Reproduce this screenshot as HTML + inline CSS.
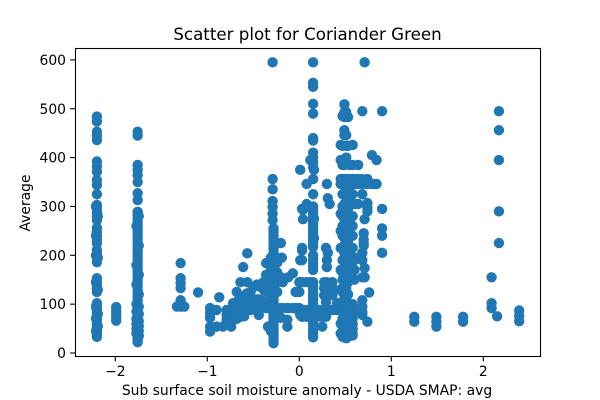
<!DOCTYPE html>
<html lang="en">
<head>
<meta charset="utf-8">
<title>Scatter plot for Coriander Green</title>
<style>
html,body{margin:0;padding:0;background:#fff;}
svg{display:block;font-family:"DejaVu Sans","Liberation Sans",sans-serif;fill:#000;}
</style>
</head>
<body>
<svg id="chart" width="600" height="400" viewBox="0 0 600 400" xmlns="http://www.w3.org/2000/svg">
<rect width="600" height="400" fill="#fff"/>
<g id="points"></g>
<rect x="75.5" y="48.5" width="465" height="308" fill="none" stroke="#000" stroke-width="1.1"/>
<g id="x-ticks"></g>
<g id="y-ticks"></g>
<text x="307.5" y="40" font-size="16.67" text-anchor="middle">Scatter plot for Coriander Green</text>
<text x="307" y="395" font-size="13.89" text-anchor="middle">Sub surface soil moisture anomaly - USDA SMAP: avg</text>
<text x="30" y="203" font-size="13.89" text-anchor="middle" transform="rotate(-90 30 203)">Average</text>
</svg>
<script>
const xTickValues = [-2, -1, 0, 1, 2];
const yTickValues = [0, 100, 200, 300, 400, 500, 600];
const stripeX = [
  -2.2, -2.21, -2.19, -1.99, -1.757, -1.77, -1.745, -1.29, -1.33, -1.25, -1.1,
  -0.97, -0.9, -0.87, -0.83, -0.79, -0.76, -0.74, -0.72, -0.68, -0.64, -0.61, -0.6, -0.57, -0.565,
  -0.53, -0.5, -0.46, -0.44, -0.42, -0.39, -0.36, -0.34, -0.31, -0.29, -0.28, -0.24, -0.2,
  -0.19, -0.18, -0.13, -0.12, -0.07, -0.04, 0, 0.01, 0.03, 0.04, 0.08, 0.12,
  0.15, 0.16, 0.2, 0.25, 0.27, 0.29, 0.3, 0.31, 0.33, 0.36, 0.41, 0.45,
  0.47, 0.49, 0.51, 0.53, 0.55, 0.58, 0.6, 0.64, 0.685, 0.7, 0.71, 0.74,
  0.76, 0.79, 0.82, 0.84, 0.9, 1.25, 1.49, 1.78, 2.09, 2.15, 2.17, 2.39
];
const stripeY = [
  [484,474,453,445,436,392,382,371,354,344,325,303,296,288,280,272,256,248,240,232,225,211,203,195,186,153,146,139,132,125,102,95,88,81,74,67,60,53,46,39,33],
  [300,240,200,145,95,70,45],
  [280,195,130,80,55],
  [94,87,80,73,66],
  [453,445,385,375,364,350,327,313,289,282,275,268,261,254,247,240,233,226,219,212,205,198,191,184,177,170,163,156,149,142,135,128,121,114,107,100,95,90,85,80,75,70,65,60,55,50,45,40,35,30,26,22],
  [260,180,140,100,85,70,60,50,40],
  [280,220,160,120,95,80,65,55,45,35],
  [184,153,143,133,108,100,95],
  [95],
  [95],
  [124],
  [92,82,72,54,44],
  [88,54],
  [114],
  [54],
  [88,78,68],
  [85,75,65],
  [54],
  [102,90,78,68],
  [125,105,100,90,85,80,70],
  [145,112,100,88,74],
  [176],
  [115,105,95,85,75],
  [122,110,98,88],
  [204,145],
  [125,115,105,95,88],
  [135,108],
  [140,110,100],
  [95,88,78],
  [135,110],
  [145,130,105],
  [184,160,145,130,105,92],
  [160,145,125,92,54],
  [195,175,160,140,120,92,45],
  [595,356,335,311,299,285,272],
  [255,248,241,234,227,220,213,205,198,191,184,177,170,163,156,149,142,135,128,121,114,107,100,95,90,85,80,75,70,65,60,55,50,45,40,35,28,20],
  [225,185,165,145,125,92],
  [225,155,92,72],
  [195],
  [145,92],
  [92,68,54],
  [155,92],
  [163,92],
  [125,92],
  [145,125,92,85],
  [375,190,145,88,78],
  [295,215,210,190,145,88,74],
  [293,274],
  [346,305,145,88,74],
  [395,145,88,74],
  [595,553,545,510,490,440,435,410,400,390,380,356,325,300,293,286,279,272,265,258,251,244,237,230,223,217,200,192,184,177,170,145,138,131,124,117,110,103,96,89,82,75,68,61,54,47,40,32],
  [375,275,235,88],
  [88,74],
  [54,88,74],
  [145,133,118],
  [215,104,88,74],
  [346,190,176,145,133,118],
  [317,205,88],
  [305,88],
  [145,133,118,129,88],
  [102,88],
  [426,395,356,346,285,250,215,170,130,95,60,40],
  [485,424,385,356,346,325,300,280,260,240,215,190,165,150,125,105,88,70,55,40,33],
  [509,493,483,456,446,395,385,356,346,325,305,295,285,275,265,250,235,220,205,190,175,155,140,120,100,80,60,45,33],
  [493,446,424,400,356,346,335,320,300,293,286,279,272,265,258,251,244,237,230,223,216,209,202,195,188,181,174,167,160,153,146,139,132,125,118,111,104,97,90,83,76,69,62,55,48,41,34,30],
  [483,424,356,346,325,305,295,270,250,225,195,170,145,120,95,88,80,70,60,50,40,33],
  [385,356,346,325,280,260,240,215,195,170,150,100,90,80,70,60,50,40,36],
  [426,385,356,346,325,305,280,260,240,215,190,100,90,80,70,60,50,40,36],
  [356,346,305,195,190,170,150],
  [385,356,346,305],
  [495,356,346,325,205,190,155,108,95,84,78],
  [245,232,220,225],
  [595,274,174,155],
  [356,346,307,298,290,64],
  [124],
  [405,346],
  [346],
  [395,346],
  [495,295,255,240,205],
  [74,64],
  [74,64,54],
  [74,64],
  [155,102,92],
  [75],
  [495,456,395,290,225],
  [87,76,65]
];

const xScale = v => 299.3 + 92 * v;
const yScale = v => 353 - 0.4885 * v;
const SVG_NS = 'http://www.w3.org/2000/svg';
const pointsGroup = document.getElementById('points');
const xTicksGroup = document.getElementById('x-ticks');
const yTicksGroup = document.getElementById('y-ticks');

stripeX.forEach((x, i) => {
  stripeY[i].forEach(y => {
    const dot = document.createElementNS(SVG_NS, 'circle');
    
    
    dot.setAttribute('cx', xScale(x));
    dot.setAttribute('cy', yScale(y));
    dot.setAttribute('r', 5.2);
    dot.setAttribute('fill', '#1f77b4');
    pointsGroup.appendChild(dot);
  });
});

const fmt = v => (v < 0 ? '\u2212' + Math.abs(v) : String(v));

xTickValues.forEach(v => {
  const px = xScale(v);
  const tick = document.createElementNS(SVG_NS, 'line');
  
  
  tick.setAttribute('x1', px);
  tick.setAttribute('x2', px);
  tick.setAttribute('y1', 356.5);
  tick.setAttribute('y2', 361.4);
  tick.setAttribute('stroke', '#000');
  tick.setAttribute('stroke-width', 1.1);
  xTicksGroup.appendChild(tick);
  const label = document.createElementNS(SVG_NS, 'text');
  
  
  label.setAttribute('x', px);
  label.setAttribute('y', 376);
  label.setAttribute('font-size', 13.89);
  label.setAttribute('text-anchor', 'middle');
  label.textContent = fmt(v);
  xTicksGroup.appendChild(label);
});

yTickValues.forEach(v => {
  const py = yScale(v);
  const tick = document.createElementNS(SVG_NS, 'line');
  
  
  tick.setAttribute('x1', 70.1);
  tick.setAttribute('x2', 75.5);
  tick.setAttribute('y1', py);
  tick.setAttribute('y2', py);
  tick.setAttribute('stroke', '#000');
  tick.setAttribute('stroke-width', 1.1);
  yTicksGroup.appendChild(tick);
  const label = document.createElementNS(SVG_NS, 'text');
  
  
  label.setAttribute('x', 66);
  label.setAttribute('y', py + 5);
  label.setAttribute('font-size', 13.89);
  label.setAttribute('text-anchor', 'end');
  label.textContent = fmt(v);
  yTicksGroup.appendChild(label);
});
</script>
</body>
</html>
